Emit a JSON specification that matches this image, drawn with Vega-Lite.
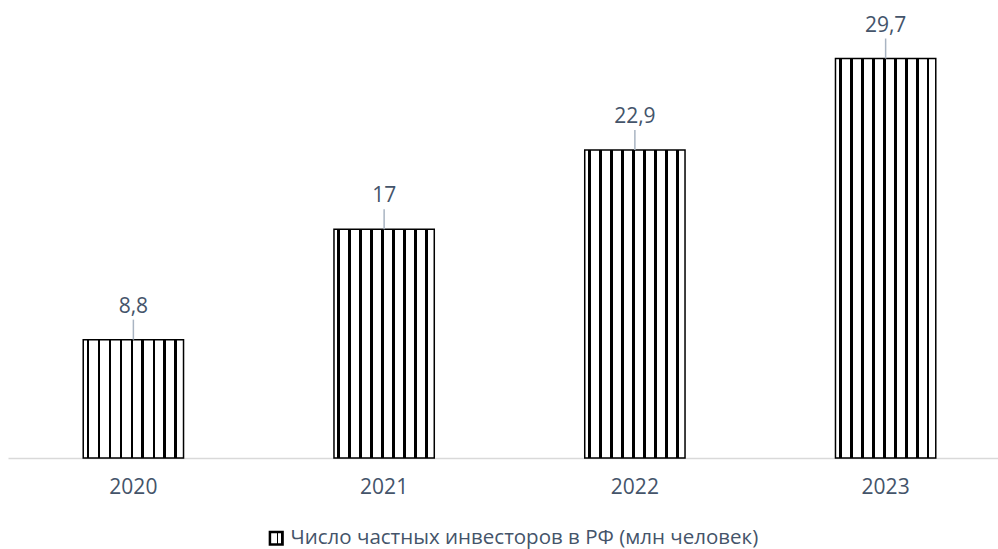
{
  "$schema": "https://vega.github.io/schema/vega-lite/v6.json",
  "width": 990,
  "height": 458,
  "autosize": {"type": "none"},
  "padding": {"left": 8, "top": 0, "right": 0, "bottom": 91},
  "background": "white",
  "config": {
    "view": {"stroke": null},
    "locale": {"number": {"decimal": ",", "thousands": " ", "grouping": [3], "currency": ["", ""]}},
    "font": "Open Sans"
  },
  "data": {
    "values": [
      {"year": "2020", "value": 8.8, "series": "Число частных инвесторов в РФ (млн человек)"},
      {"year": "2021", "value": 17, "series": "Число частных инвесторов в РФ (млн человек)"},
      {"year": "2022", "value": 22.9, "series": "Число частных инвесторов в РФ (млн человек)"},
      {"year": "2023", "value": 29.7, "series": "Число частных инвесторов в РФ (млн человек)"}
    ]
  },
  "encoding": {
    "x": {
      "field": "year",
      "type": "nominal",
      "sort": null,
      "scale": {"range": [0, 1003], "paddingInner": 0.6, "paddingOuter": 0.3},
      "axis": {
        "title": null,
        "labelAngle": 0,
        "labelFont": "Open Sans",
        "labelFontSize": 21,
        "labelColor": "#44546A",
        "labelPadding": 18,
        "ticks": false,
        "domainColor": "#D9D9D9",
        "domainWidth": 1.5
      }
    },
    "y": {
      "field": "value",
      "type": "quantitative",
      "scale": {"domain": [0, 34.05], "nice": false, "zero": true},
      "axis": null
    }
  },
  "layer": [
    {
      "mark": {
        "type": "bar",
        "strokeWidth": 1.5,
        "fill": {
          "gradient": "linear",
          "x1": 0, "x2": 1, "y1": 0, "y2": 0,
          "stops": [
            {"offset": 0, "color": "white"},
            {"offset": 0.034, "color": "white"}, {"offset": 0.034, "color": "black"},
            {"offset": 0.062, "color": "black"}, {"offset": 0.062, "color": "white"},
            {"offset": 0.143, "color": "white"}, {"offset": 0.143, "color": "black"},
            {"offset": 0.171, "color": "black"}, {"offset": 0.171, "color": "white"},
            {"offset": 0.253, "color": "white"}, {"offset": 0.253, "color": "black"},
            {"offset": 0.281, "color": "black"}, {"offset": 0.281, "color": "white"},
            {"offset": 0.362, "color": "white"}, {"offset": 0.362, "color": "black"},
            {"offset": 0.390, "color": "black"}, {"offset": 0.390, "color": "white"},
            {"offset": 0.472, "color": "white"}, {"offset": 0.472, "color": "black"},
            {"offset": 0.500, "color": "black"}, {"offset": 0.500, "color": "white"},
            {"offset": 0.581, "color": "white"}, {"offset": 0.581, "color": "black"},
            {"offset": 0.609, "color": "black"}, {"offset": 0.609, "color": "white"},
            {"offset": 0.691, "color": "white"}, {"offset": 0.691, "color": "black"},
            {"offset": 0.719, "color": "black"}, {"offset": 0.719, "color": "white"},
            {"offset": 0.800, "color": "white"}, {"offset": 0.800, "color": "black"},
            {"offset": 0.828, "color": "black"}, {"offset": 0.828, "color": "white"},
            {"offset": 0.909, "color": "white"}, {"offset": 0.909, "color": "black"},
            {"offset": 0.937, "color": "black"}, {"offset": 0.937, "color": "white"},
            {"offset": 1, "color": "white"}
          ]
        }
      },
      "encoding": {
        "stroke": {
          "field": "series",
          "type": "nominal",
          "scale": {"range": ["black"]},
          "legend": {
            "title": null,
            "orient": "none",
            "legendX": 258,
            "legendY": 528,
            "symbolType": "square",
            "symbolSize": 160,
            "symbolStrokeColor": "black",
            "symbolStrokeWidth": 2.5,
            "labelFont": "Open Sans",
            "labelFontSize": 20.5,
            "labelColor": "#44546A",
            "labelLimit": 0,
            "labelOffset": 4,
            "encode": {"symbols": {"update": {"fill": {"value": "white"}, "stroke": {"value": "black"}}}}
          }
        }
      }
    },
    {
      "mark": {"type": "rule", "color": "#A9B4C2", "strokeWidth": 1.5, "y2Offset": -20},
      "encoding": {
        "y2": {"field": "value"}
      }
    },
    {
      "mark": {"type": "text", "font": "Open Sans", "fontSize": 21, "color": "#44546A", "baseline": "alphabetic", "dy": -27},
      "encoding": {
        "text": {"field": "value", "type": "quantitative", "format": "~g"}
      }
    }
  ]
}
